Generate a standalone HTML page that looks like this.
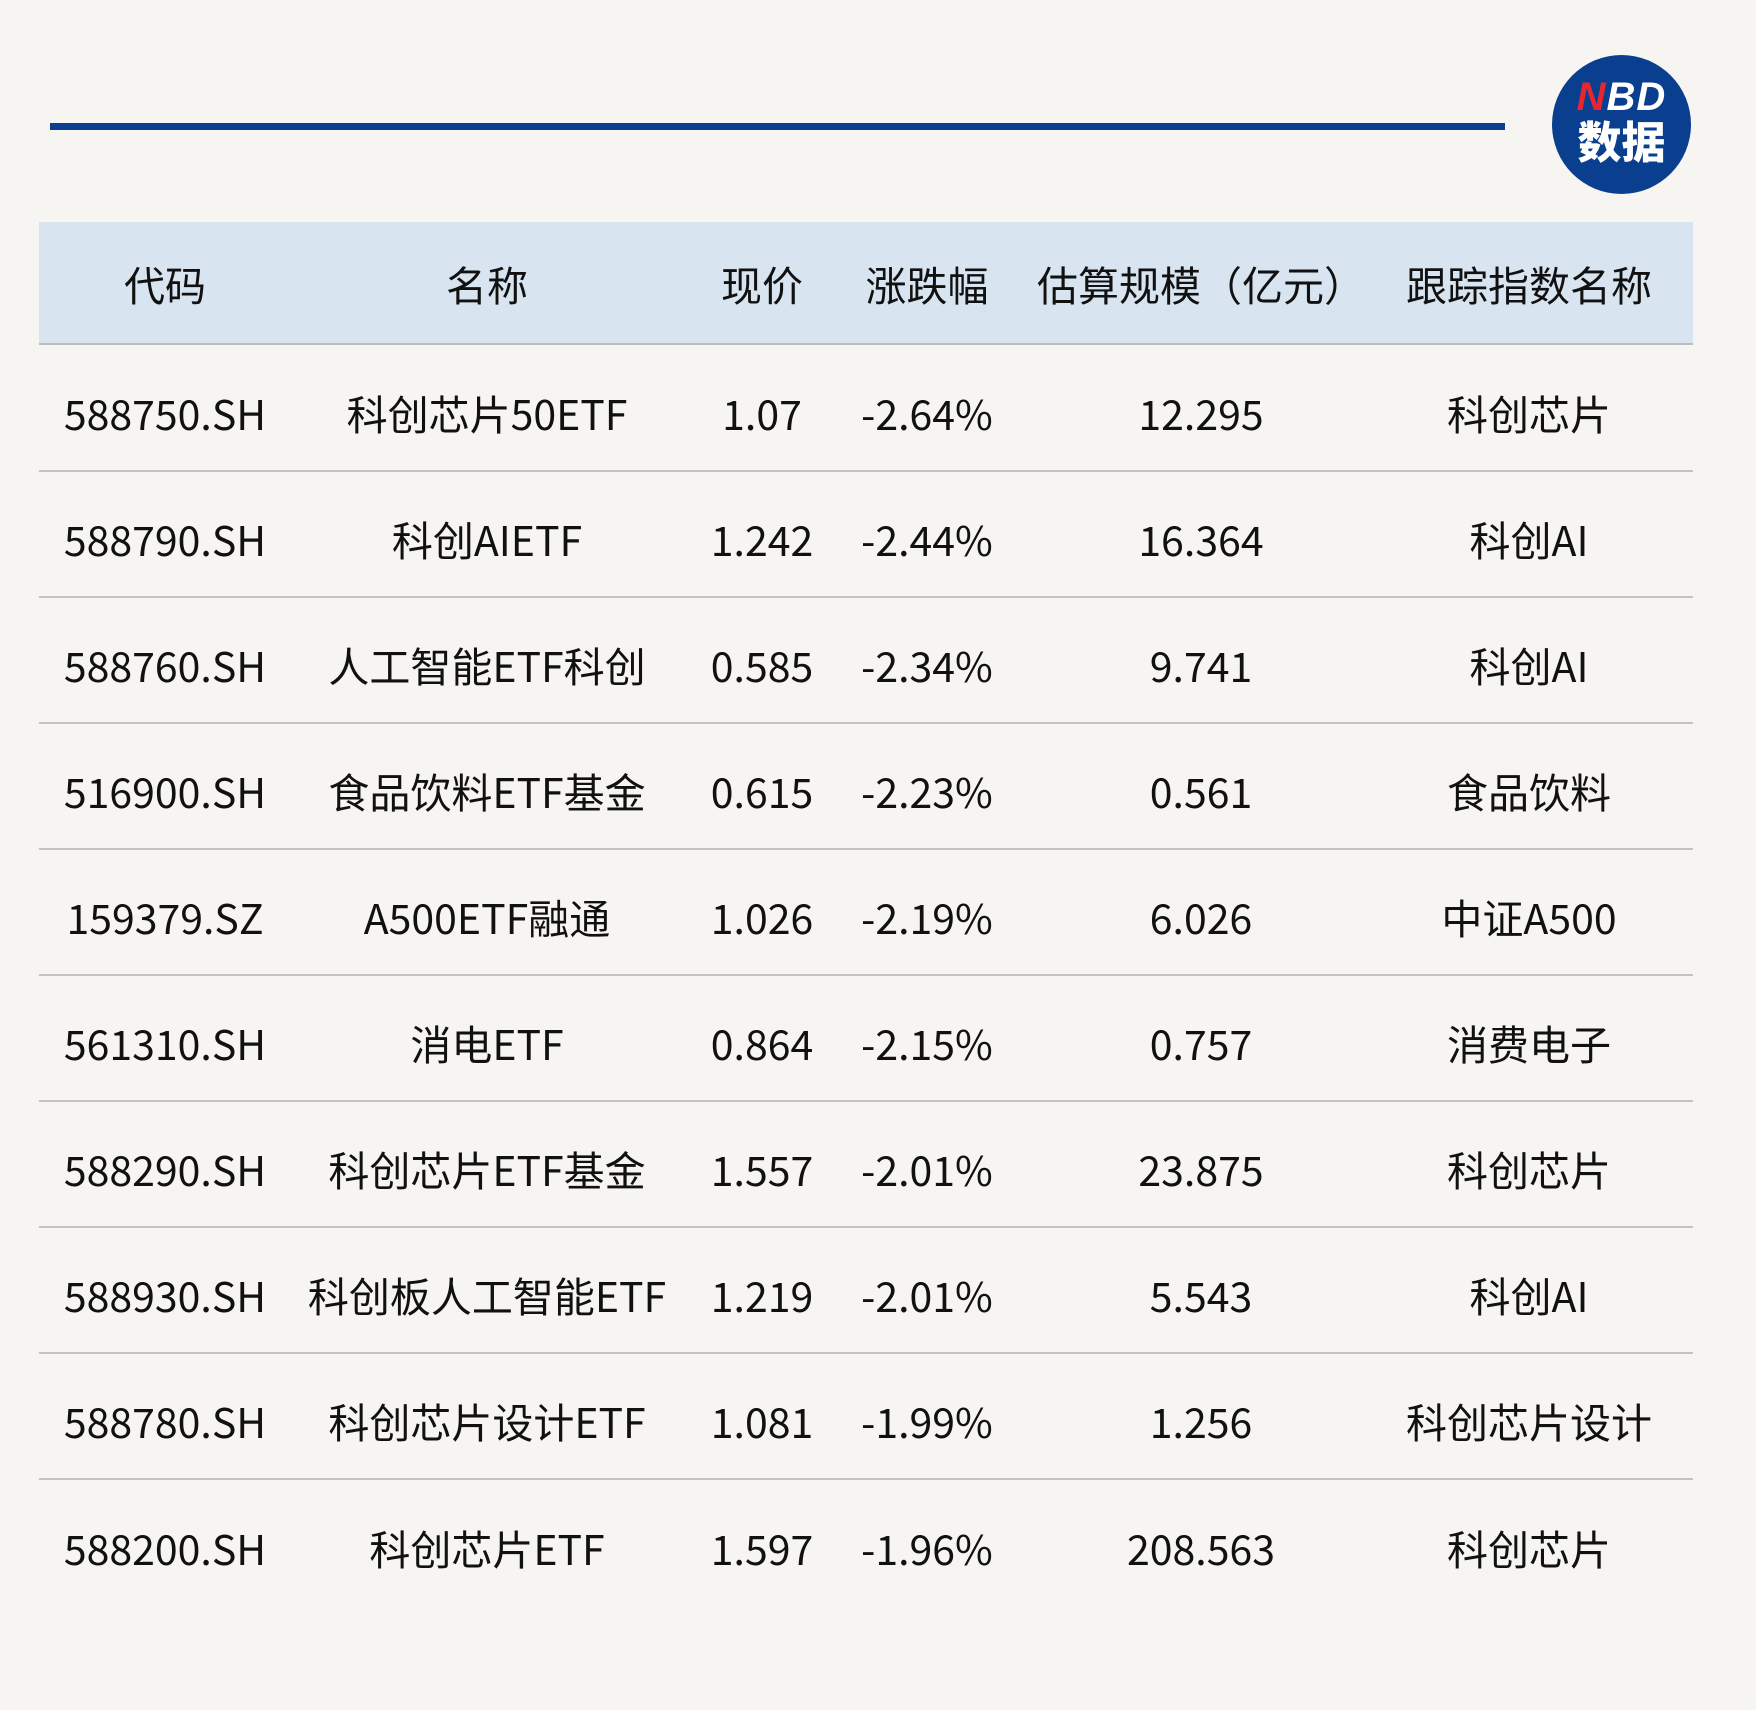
<!DOCTYPE html>
<html><head><meta charset="utf-8"><style>
body{margin:0;width:1756px;height:1710px;background:#f7f5f1;position:relative;overflow:hidden;font-family:"Noto Sans CJK SC","Liberation Sans",sans-serif;color:#111}
.line{position:absolute;left:50px;top:123px;width:1455px;height:7px;background:#0b3f8f}
.logo{position:absolute;left:1552px;top:55px;width:139px;height:139px;border-radius:50%;background:#0a3f8f;color:#fff;text-align:center;font-weight:bold}
.logo .a{position:absolute;top:20px;width:100%;font-size:40px;line-height:1.1;font-family:"Liberation Sans",sans-serif;font-style:italic;letter-spacing:1px}
.logo .b{position:absolute;top:58px;width:100%;font-size:44px;line-height:1.2;font-family:"Noto Sans CJK SC",sans-serif;font-weight:900}
.hdr{position:absolute;left:39px;top:222px;width:1654px;height:123px;background:#d8e5f0;border-bottom:2px solid #bcbcbc;box-sizing:border-box}
.row{position:absolute;left:39px;width:1654px;height:126px;border-bottom:2px solid #c4c2c0;box-sizing:border-box}
.c{position:absolute;top:0;height:100%;display:flex;align-items:center;justify-content:center;font-size:41px;white-space:nowrap;transform:translateX(-50%)}
.row .c{padding-top:8px;box-sizing:border-box}
</style></head><body>
<div class="line"></div>
<div class="logo"><div class="a"><span style="color:#e8262f">N</span>BD</div><div class="b">数据</div></div>
<div class="hdr">
<div class="c" style="left:126px">代码</div>
<div class="c" style="left:448px">名称</div>
<div class="c" style="left:723px">现价</div>
<div class="c" style="left:888px">涨跌幅</div>
<div class="c" style="left:1162px">估算规模（亿元）</div>
<div class="c" style="left:1490px">跟踪指数名称</div>
</div>
<div id="rows"></div>
<script>
var d=[["588750.SH","科创芯片50ETF","1.07","-2.64%","12.295","科创芯片"],
["588790.SH","科创AIETF","1.242","-2.44%","16.364","科创AI"],
["588760.SH","人工智能ETF科创","0.585","-2.34%","9.741","科创AI"],
["516900.SH","食品饮料ETF基金","0.615","-2.23%","0.561","食品饮料"],
["159379.SZ","A500ETF融通","1.026","-2.19%","6.026","中证A500"],
["561310.SH","消电ETF","0.864","-2.15%","0.757","消费电子"],
["588290.SH","科创芯片ETF基金","1.557","-2.01%","23.875","科创芯片"],
["588930.SH","科创板人工智能ETF","1.219","-2.01%","5.543","科创AI"],
["588780.SH","科创芯片设计ETF","1.081","-1.99%","1.256","科创芯片设计"],
["588200.SH","科创芯片ETF","1.597","-1.96%","208.563","科创芯片"]];
var xs=[126,448,723,888,1162,1490],h="";
d.forEach(function(r,i){h+='<div class="row" style="top:'+(346+126*i)+'px;'+(i==9?'border-bottom:none':'')+'">';
r.forEach(function(t,j){h+='<div class="c" style="left:'+xs[j]+'px">'+t+'</div>';});h+='</div>';});
document.getElementById('rows').innerHTML=h;
</script>
</body></html>
